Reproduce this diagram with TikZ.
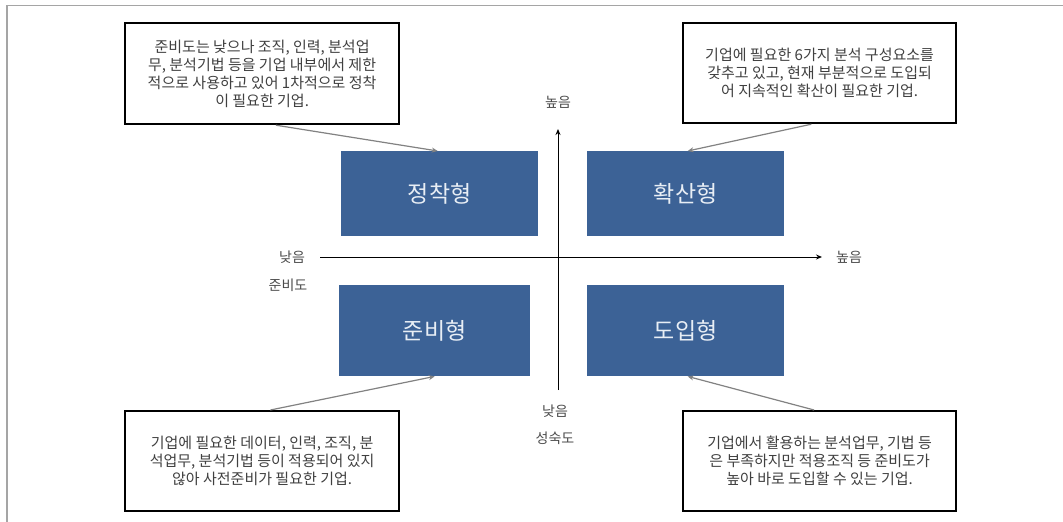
\documentclass[tikz,border=0pt]{standalone}
\usepackage{fontspec}
\setmainfont{Noto Sans CJK KR}
\usetikzlibrary{calc,arrows.meta}
\definecolor{qblue}{RGB}{60,98,150}
\definecolor{qtext}{RGB}{232,238,245}
\definecolor{framegray}{RGB}{165,165,165}
\definecolor{linkgray}{RGB}{130,130,130}
\tikzset{
  descbox/.style={draw=black, line width=2.2pt, fill=white, minimum width=274pt, minimum height=101pt, align=center, font=\fontsize{15}{18}\selectfont, text=black!75, inner sep=0pt, anchor=north west},
  quadbox/.style={fill=qblue, draw=none, text=qtext, font=\fontsize{23}{26}\selectfont, inner sep=0pt, anchor=north west},
  axislabel/.style={font=\fontsize{14}{16}\selectfont, text=black!70, inner sep=1pt},
  axisline/.style={draw=black, line width=1pt, -{Stealth[length=6pt,width=5pt]}},
  linkarrow/.style={draw=linkgray, line width=1.2pt, -{Stealth[length=6pt,width=5pt]}}
}
\begin{document}
\begin{tikzpicture}[x=1pt,y=-1pt]
\useasboundingbox (0,0) rectangle (1063,522);
\fill[white] (0,0) rectangle (1063,522);
% frame
\draw[framegray, line width=1.5pt] (7,522) -- (7,5.5) -- (1063,5.5);

% description boxes
\node[descbox] (tl) at (124,22) {준비도는 낮으나 조직, 인력, 분석업\\무, 분석기법 등을 기업 내부에서 제한\\적으로 사용하고 있어 1차적으로 정착\\이 필요한 기업.};
\node[descbox, minimum width=273pt, minimum height=100pt] (tr) at (682,22) {기업에 필요한 6가지 분석 구성요소를\\갖추고 있고, 현재 부분적으로 도입되\\어 지속적인 확산이 필요한 기업.};
\node[descbox, minimum height=100pt] (bl) at (124,410) {기업에 필요한 데이터, 인력, 조직, 분\\석업무, 분석기법 등이 적용되어 있지\\않아 사전준비가 필요한 기업.};
\node[descbox, minimum width=273pt, minimum height=100pt] (br) at (682,410) {기업에서 활용하는 분석업무, 기법 등\\은 부족하지만 적용조직 등 준비도가\\높아 바로 도입할 수 있는 기업.};

% quadrant boxes
\node[quadbox, minimum width=197pt, minimum height=85pt] (jc) at (341,151) {정착형};
\node[quadbox, minimum width=197pt, minimum height=85pt] (hs) at (587,151) {확산형};
\node[quadbox, minimum width=191pt, minimum height=91pt] (jb) at (339,285) {준비형};
\node[quadbox, minimum width=197pt, minimum height=91pt] (di) at (587,285) {도입형};

% axes
\coordinate (hstart) at (320,257);
\coordinate (hend) at (822,257);
\coordinate (vstart) at (558,390);
\coordinate (vend) at (558,129);
\draw[axisline] (hstart) -- (hend);
\draw[axisline] (vstart) -- (vend);

\node[axislabel] (xlow) at (292,257) {낮음};
\node[axislabel] (xname) at (288,285) {준비도};
\node[axislabel] (xhigh) at (849,257) {높음};
\node[axislabel] (yhigh) at (558,102) {높음};
\node[axislabel] (ylow) at (555,411) {낮음};
\node[axislabel] (yname) at (555,438) {성숙도};

% connectors
\draw[linkarrow] ($(tl.south west)!0.55!(tl.south east)$) -- ($(jc.north west)!0.49!(jc.north east)$);
\draw[linkarrow] ($(tr.south west)!0.47!(tr.south east)$) -- ($(hs.north west)!0.51!(hs.north east)$);
\draw[linkarrow] ($(bl.north west)!0.53!(bl.north east)$) -- ($(jb.south west)!0.50!(jb.south east)$);
\draw[linkarrow] ($(br.north west)!0.48!(br.north east)$) -- ($(di.south west)!0.51!(di.south east)$);
\end{tikzpicture}
\end{document}
